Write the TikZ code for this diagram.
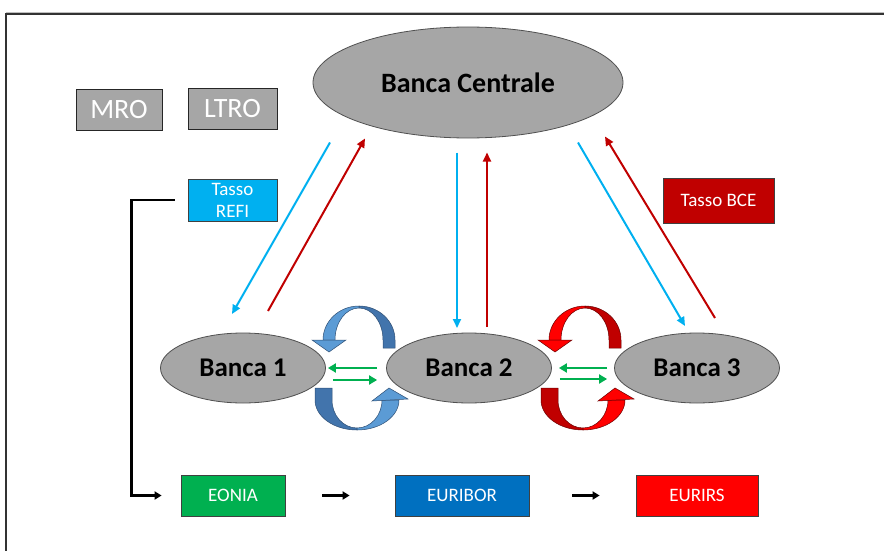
\documentclass[tikz,border=0pt]{standalone}
\usepackage{fontspec}
\setmainfont{Carlito}
\usetikzlibrary{arrows.meta,calc,shapes.geometric}

\definecolor{bankgray}{HTML}{A6A6A6}
\definecolor{edgegray}{HTML}{505050}
\definecolor{refiblue}{HTML}{00B0F0}
\definecolor{bcered}{HTML}{C00000}
\definecolor{eoniagreen}{HTML}{00B050}
\definecolor{euriborblue}{HTML}{0070C0}
\definecolor{eurirsred}{HTML}{FF0000}
\definecolor{ribbonlight}{HTML}{5B9BD5}
\definecolor{ribbondark}{HTML}{4274AC}
\definecolor{ribbonedge}{HTML}{2F4F74}
\definecolor{redlight}{HTML}{FF0000}
\definecolor{reddark}{HTML}{C00000}
\definecolor{rededge}{HTML}{6A0000}

\tikzset{
  bank/.style={ellipse, draw=edgegray, fill=bankgray, line width=0.8pt, inner sep=0pt,
               font=\bfseries\fontsize{27}{30}\selectfont},
  greybox/.style={rectangle, draw=black!85, fill=bankgray, line width=0.8pt, inner sep=0pt,
                  text=white, font=\fontsize{28}{30}\selectfont},
  ratebox/.style={rectangle, draw=black!75, line width=0.8pt, inner sep=0pt, text=white,
                  font=\fontsize{19}{22}\selectfont, align=center},
  flowblue/.style={draw=refiblue, line width=2pt, -{Triangle[length=9pt,width=8pt]}},
  flowred/.style={draw=bcered, line width=2pt, -{Triangle[length=9pt,width=8pt]}},
  swap/.style={draw=eoniagreen, line width=2.8pt, -{Triangle[length=8pt,width=9pt]}},
  blk/.style={draw=black, line width=2.4pt, -{Triangle[length=7pt,width=8pt]}},
  pics/ribbontop/.style args={#1/#2/#3}{code={
    \filldraw[fill=#1, draw=#3, line width=0.5pt]
      (0,-34) arc[start angle=-90, end angle=-180, x radius=36, y radius=34]
      -- (-24,0) arc[start angle=-180, end angle=-90, x radius=24, y radius=32] -- cycle;
    \filldraw[fill=#2, draw=#3, line width=0.5pt]
      (36,8) -- (36,0) arc[start angle=0, end angle=-90, x radius=36, y radius=34]
      -- (0,-32) arc[start angle=-90, end angle=0, x radius=24, y radius=32]
      -- (24,8) -- cycle;
    \filldraw[fill=#1, draw=#3, line width=0.5pt]
      (-47,0) -- (-13,0) -- (-30,12) -- cycle;
  }},
  pics/ribbonbottom/.style args={#1/#2/#3}{code={
    \filldraw[fill=#2, draw=#3, line width=0.5pt]
      (-42,-12) -- (-42,0) arc[start angle=180, end angle=90, x radius=42, y radius=30]
      -- (0,28) arc[start angle=90, end angle=180, x radius=25, y radius=28]
      -- (-25,-12) -- cycle;
    \filldraw[fill=#1, draw=#3, line width=0.5pt]
      (0,30) arc[start angle=90, end angle=0, x radius=42, y radius=30]
      -- (25,0) arc[start angle=0, end angle=90, x radius=25, y radius=28] -- cycle;
    \filldraw[fill=#1, draw=#3, line width=0.5pt]
      (15,1) -- (51,-1) -- (32,-12) -- cycle;
  }}
}

\begin{document}
\begin{tikzpicture}[x=1pt, y=-1pt]
\useasboundingbox (0,0) rectangle (884,551);

% outer frame (top and left edges)
\draw[black!25, line width=1pt] (6,12.3) -- (884,12.3);
\draw[black!80, line width=1.2pt] (6,551) -- (6,14) -- (884,14);

% central bank and commercial banks
\node[bank, minimum width=310pt, minimum height=111pt,
      font=\bfseries\fontsize{28}{30}\selectfont] (bc) at (468,82.5) {Banca Centrale};
\node[bank, minimum width=165pt, minimum height=70pt] (b1) at (243,368) {Banca 1};
\node[bank, minimum width=165pt, minimum height=70pt] (b2) at (469,368) {Banca 2};
\node[bank, minimum width=165pt, minimum height=70pt] (b3) at (697,368) {Banca 3};

% operations and rates
\node[greybox, minimum width=86pt, minimum height=41pt] (mro) at (119,109.5) {MRO};
\node[greybox, minimum width=89pt, minimum height=41pt] (ltro) at (232.5,108.5) {LTRO};
\node[ratebox, fill=refiblue, minimum width=89pt, minimum height=42pt] (refi) at (232.5,200)
     {Tasso\\REFI};
\node[ratebox, fill=bcered, minimum width=111pt, minimum height=45pt] (bce) at (718.5,200.5)
     {Tasso BCE};

% market rates
\node[ratebox, fill=eoniagreen, minimum width=104pt, minimum height=41pt] (eonia) at (233,495.5) {EONIA};
\node[ratebox, fill=euriborblue, minimum width=134pt, minimum height=41pt] (euribor) at (462,495.5) {EURIBOR};
\node[ratebox, fill=eurirsred, minimum width=122pt, minimum height=41pt] (eurirs) at (697,495.5) {EURIRS};

% liquidity down, payments up
\draw[flowblue] ($(bc)+(-138,60)$) -- ($(b1)+(-11,-54)$);
\draw[flowred]  ($(b1)+(25,-57)$) -- ($(bc)+(-103,56)$);
\draw[flowblue] ($(bc)+(-11,70)$) -- ($(b2)+(-12,-40)$);
\draw[flowred]  ($(b2)+(18,-41)$) -- ($(bc)+(19,70)$);
\draw[flowblue] ($(bc)+(110,60)$) -- ($(b3)+(-12,-42)$);
\draw[flowred]  ($(b3)+(18,-50)$) -- ($(bc)+(137,54)$);

% interbank exchanges
\draw[swap] ($(b2.west)+(-9,0)$) -- ($(b1.east)+(2,0)$);
\draw[swap] ($(b1.east)+(7,12)$) -- ($(b2.west)+(-9,12)$);
\draw[swap] ($(b3.west)+(-7,0)$) -- ($(b2.east)+(7,0)$);
\draw[swap] ($(b2.east)+(8,11)$) -- ($(b3.west)+(-7,11)$);

% circular flows between banks
\pic at (359,340) {ribbontop={ribbonlight/ribbondark/ribbonedge}};
\pic at (357,400) {ribbonbottom={ribbonlight/ribbondark/ribbonedge}};
\pic at (585,340) {ribbontop={redlight/reddark/rededge}};
\pic at (583,400) {ribbonbottom={redlight/reddark/rededge}};

% transmission chain
\draw[blk] ([xshift=-13pt]refi.west) -- ++(-43,0) |- ([xshift=-19pt]eonia.west);
\draw[blk] ([xshift=37pt]eonia.east) -- ([xshift=-45pt]euribor.west);
\draw[blk] ([xshift=43pt]euribor.east) -- ([xshift=-36pt]eurirs.west);
\end{tikzpicture}
\end{document}
